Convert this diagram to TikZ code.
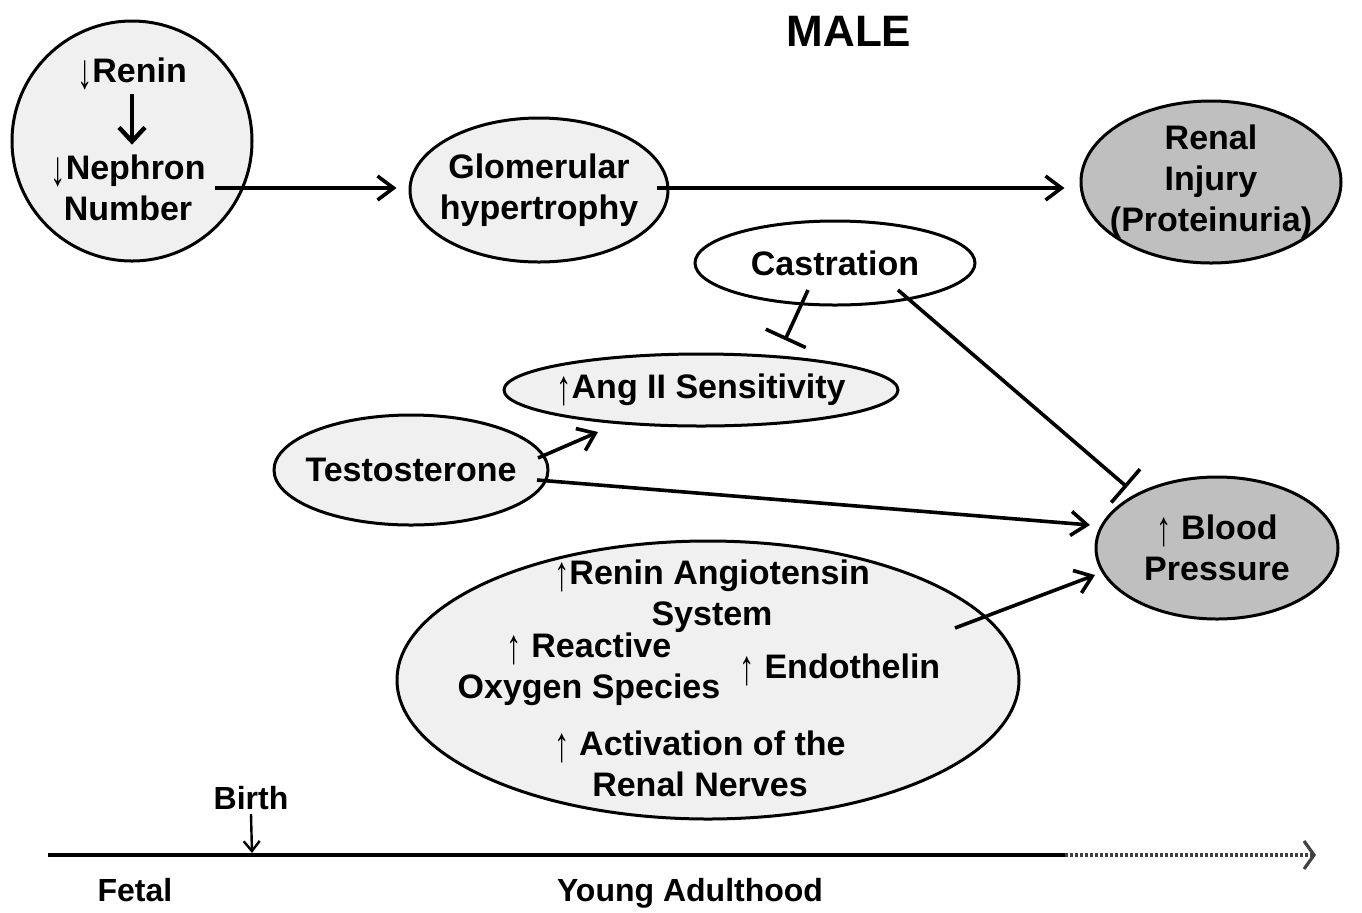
\documentclass[tikz,border=0pt]{standalone}
\usepackage{fontspec}
\usepackage{graphicx}
\setmainfont{Liberation Sans}
\newfontfamily\arrowfont{Liberation Sans}
\usetikzlibrary{positioning, arrows.meta, shapes.geometric}
\newcommand{\upar}{{\mdseries\arrowfont\raisebox{-3pt}{\scalebox{0.9}[1.45]{↑}}}}
\newcommand{\dnar}{{\mdseries\arrowfont\raisebox{-3pt}{\scalebox{0.9}[1.45]{↓}}}}
\tikzset{
  txt/.style={align=center, inner sep=1pt, font=\fontsize{17}{20.5}\selectfont\bfseries},
  bubble/.style={draw, ellipse, line width=1.5pt, fill=gray!12, inner sep=0pt, label={[txt]center:#1}},
  bubble/.default={},
  darkbubble/.style={bubble=#1, fill=gray!50},
  openbubble/.style={bubble=#1, fill=white},
  arr/.style={-{Straight Barb[length=8pt, width=12pt, line width=1.8pt]}, line width=1.8pt},
  inh/.style={-{Bar[width=22pt, line width=1.8pt]}, line width=1.8pt},
  fatarr/.style={-{Straight Barb[length=7pt, width=13pt, line width=2.2pt]}, line width=2.4pt},
  thinarr/.style={-{Straight Barb[length=5pt, width=8pt, line width=1.2pt]}, line width=1.2pt}
}

\begin{document}
\begin{tikzpicture}[x=0.5pt, y=-0.5pt]
\useasboundingbox (0,0) rectangle (1362,912);
\node[txt, font=\fontsize{22}{26}\selectfont\bfseries] (title) at (849,31) {MALE};
% fetal side
\node[bubble, circle, minimum size=120pt] (kid) at (132,141) {};
\node[txt] (renin) at (132,74) {\dnar Renin};
\node[txt] (nephron) at (128,188) {\dnar Nephron\\Number};
\draw[fatarr] ([yshift=-1pt]renin.south) -- ([yshift=4pt]renin.south |- nephron.north);
% main ellipses
\node[bubble={Glomerular\\hypertrophy}, minimum width=129pt, minimum height=72pt] (glom) at (539,190) {};
\node[darkbubble={Renal\\Injury\\(Proteinuria)}, minimum width=130pt, minimum height=81pt] (renal) at (1211,182) {};
\node[openbubble=Castration, minimum width=140pt, minimum height=42pt] (castr) at (835,263) {};
\node[bubble={\upar Ang II Sensitivity}, minimum width=197pt, minimum height=36pt] (ang) at (701,390) {};
\node[bubble=Testosterone, minimum width=137pt, minimum height=55pt] (testo) at (411,470) {};
\node[darkbubble={\upar\ Blood\\Pressure}, minimum width=121pt, minimum height=71pt] (bp) at (1217,548) {};
% mechanisms
\node[bubble, minimum width=311pt, minimum height=139pt] (mech) at (708,680) {};
\node[txt] (ras) at (712,596) {\upar Renin Angiotensin\\System};
\node[txt] (ros) at (589,669) {\upar\ Reactive\\Oxygen Species};
\node[txt] (endo) at (840,670) {\upar\ Endothelin};
\node[txt] (nerves) at (700,764) {\upar\ Activation of the\\Renal Nerves};
% connectors
\draw[arr] ([shift={(83,47)}]kid.center) -- ([shift={(-12,-2)}]glom.west);
\draw[arr] ([shift={(-13,-2)}]glom.east) -- ([shift={(-15,6)}]renal.west);
\draw[inh] ([shift={(-27,27)}]castr.center) -- ([shift={(84,-50)}]ang.center);
\draw[inh] ([shift={(63,27)}]castr.center) -- ([shift={(-90,-61)}]bp.center);
\draw[arr] ([shift={(127,-12)}]testo.center) -- ([shift={(-103,42)}]ang.center);
\draw[arr] ([shift={(126,10)}]testo.center) -- ([shift={(-127,-23)}]bp.center);
\draw[arr] ([shift={(247,-52)}]mech.center) -- ([shift={(-122,27)}]bp.center);
% timeline
\coordinate (t0) at (48,855);
\coordinate (t1) at (1065,855);
\coordinate (t2) at (1316,855);
\draw[line width=2pt] (t0) -- (t1);
\draw[line width=2pt, dash pattern=on 1.5pt off 1pt, -{Straight Barb[length=5pt, width=14pt, line width=1.6pt]}, black!75] (t1) -- (t2);
\node[txt, font=\fontsize{16}{19}\selectfont\bfseries] (birth) at (251,798) {Birth};
\coordinate (bt) at (252,853);
\draw[thinarr] ([yshift=-1pt]birth.south) -- (bt);
\node[txt, font=\fontsize{16}{19}\selectfont\bfseries] (fetal) at (135,890) {Fetal};
\node[txt, font=\fontsize{16}{19}\selectfont\bfseries] (young) at (690,893) {Young Adulthood};
\end{tikzpicture}
\end{document}
